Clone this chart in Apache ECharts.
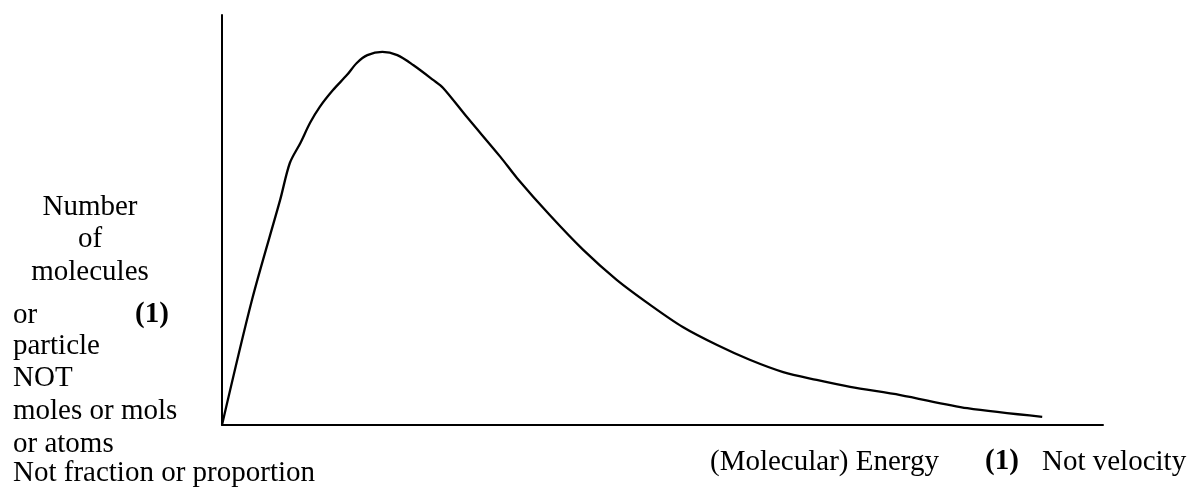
<!DOCTYPE html>
<html>
<head>
<meta charset="utf-8">
<script src="https://cdn.jsdelivr.net/npm/echarts@6/dist/echarts.min.js"></script>
<style>
  html, body { margin: 0; padding: 0; background: #ffffff; }
  #chart { width: 1192px; height: 492px; }
</style>
</head>
<body>
<div id="chart"></div>
<script>
// Energy (arbitrary units, 0..100 across the axis)
const energy = [0, 3.4, 6.6, 7.7, 8.9, 10.0, 11.1, 12.6, 14.2, 15.3, 16.5, 18.2, 19.9, 21.7, 24.0, 25.1, 27.8, 31.6, 33.5, 37.2, 41.0, 44.8, 48.6, 52.3, 56.2, 59.9, 63.7, 67.5, 71.3, 77.0, 84.6, 93.1];
// Number of molecules (arbitrary units, 0..100)
const molecules = [0, 30.5, 54.9, 63.9, 68.8, 73.7, 77.6, 81.7, 85.4, 88.3, 90.2, 91.0, 90.2, 87.8, 84.1, 82.2, 75.1, 65.4, 60.2, 51.2, 42.7, 35.4, 29.3, 23.9, 19.5, 15.9, 12.9, 11.0, 9.3, 7.3, 4.1, 2.0];

const yLabelCentered = ["Number", "of", "molecules"];
const yLabelLeft = ["or", "particle", "NOT", "moles or mols", "or atoms", "Not fraction or proportion"];
const yMark = "(1)";
const xLabel = "(Molecular) Energy";
const xMark = "(1)";
const xNote = "Not velocity";

const FONT = '29px "Liberation Serif", "Times New Roman", serif';
const BFONT = 'bold 29px "Liberation Serif", "Times New Roman", serif';

const chart = echarts.init(document.getElementById('chart'), null, { renderer: 'canvas' });

const centeredY = [207, 239, 272];
const leftY = [315, 346, 378, 411, 444, 473];

const graphics = [];
yLabelCentered.forEach((t, i) => graphics.push({
  type: 'text', x: 90, y: centeredY[i],
  style: { text: t, font: FONT, fill: '#000', textAlign: 'center', textVerticalAlign: 'middle' }
}));
yLabelLeft.forEach((t, i) => graphics.push({
  type: 'text', x: 13, y: leftY[i],
  style: { text: t, font: FONT, fill: '#000', textAlign: 'left', textVerticalAlign: 'middle' }
}));
graphics.push({ type: 'text', x: 135, y: 315,
  style: { text: yMark, font: BFONT, fill: '#000', textAlign: 'left', textVerticalAlign: 'middle' } });
graphics.push({ type: 'text', x: 710, y: 462,
  style: { text: xLabel, font: FONT, fill: '#000', textAlign: 'left', textVerticalAlign: 'middle' } });
graphics.push({ type: 'text', x: 985, y: 462,
  style: { text: xMark, font: BFONT, fill: '#000', textAlign: 'left', textVerticalAlign: 'middle' } });
graphics.push({ type: 'text', x: 1042, y: 462,
  style: { text: xNote, font: FONT, fill: '#000', textAlign: 'left', textVerticalAlign: 'middle' } });

chart.setOption({
  animation: false,
  backgroundColor: '#ffffff',
  grid: { left: 222, right: 89, top: 15, bottom: 67 },
  xAxis: {
    type: 'value', min: 0, max: 100,
    axisLine: { show: true, onZero: false, lineStyle: { color: '#000', width: 2 } },
    axisTick: { show: false }, axisLabel: { show: false }, splitLine: { show: false }
  },
  yAxis: {
    type: 'value', min: 0, max: 100,
    axisLine: { show: true, onZero: false, lineStyle: { color: '#000', width: 2 } },
    axisTick: { show: false }, axisLabel: { show: false }, splitLine: { show: false }
  },
  series: [{
    type: 'line',
    data: energy.map((e, i) => [e, molecules[i]]),
    showSymbol: false,
    smooth: 0.3,
    lineStyle: { color: '#000', width: 2.3 },
    clip: false
  }],
  graphic: graphics
});
</script>
</body>
</html>
